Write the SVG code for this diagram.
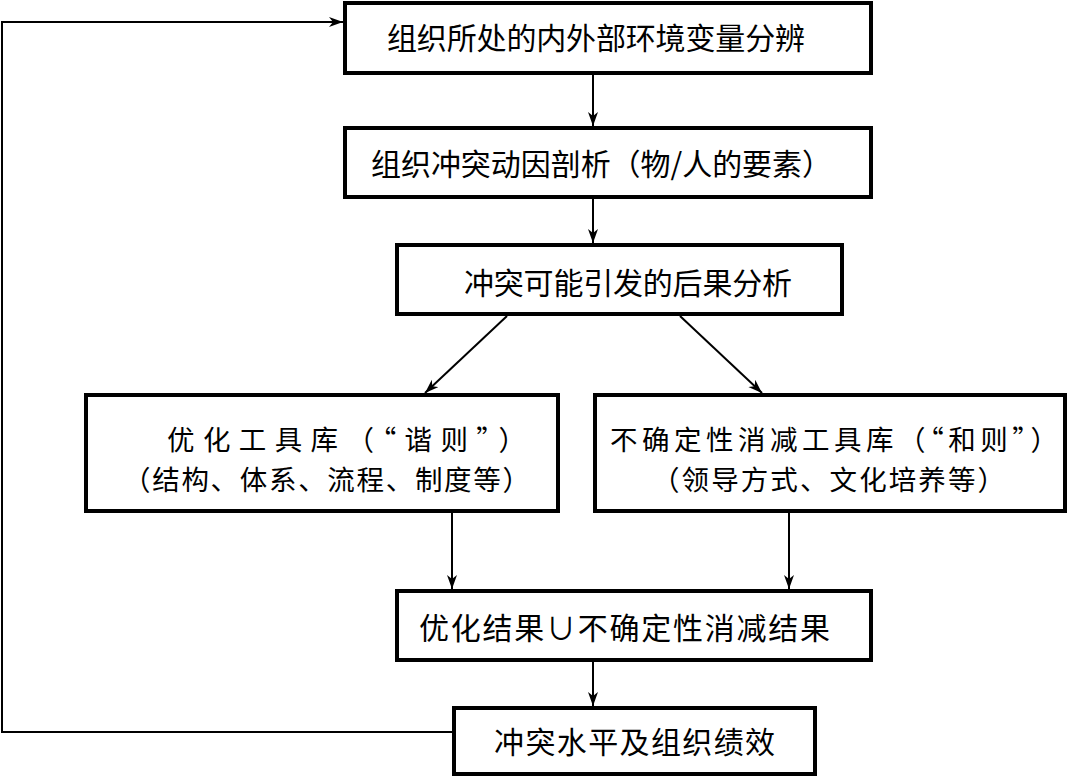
<svg xmlns="http://www.w3.org/2000/svg" width="1069" height="777" viewBox="0 0 1069 777">
<defs>
<marker id="arr" markerUnits="userSpaceOnUse" markerWidth="16" markerHeight="12" refX="14" refY="5" orient="auto">
<path d="M0,0 L14,5 L0,10 L4,5 z" fill="#000"/>
</marker>
<style>
.box{fill:#fff;stroke:#000;stroke-width:4}
.t{font-family:"Noto Sans CJK SC","Noto Sans CJK JP",sans-serif;font-size:30px;fill:#000}
.s{font-size:27.5px}
.c{fill:none;stroke:#000;stroke-width:2}
</style>
</defs>
<rect width="1069" height="777" fill="#fff"/>
<g id="connectors">
<line class="c" x1="593" y1="75" x2="593" y2="126" marker-end="url(#arr)"/>
<line class="c" x1="593" y1="199" x2="593" y2="243" marker-end="url(#arr)"/>
<line class="c" x1="507" y1="316" x2="425" y2="393" marker-end="url(#arr)"/>
<line class="c" x1="680" y1="316" x2="762" y2="393" marker-end="url(#arr)"/>
<line class="c" x1="452" y1="513" x2="452" y2="589" marker-end="url(#arr)"/>
<line class="c" x1="789" y1="513" x2="789" y2="589" marker-end="url(#arr)"/>
<line class="c" x1="593" y1="662" x2="593" y2="706" marker-end="url(#arr)"/>
<polyline class="c" points="452,732 2,732 2,22 343,22" marker-end="url(#arr)"/>
</g>
<g id="n1">
<rect class="box" x="345" y="3" width="526" height="70"/>
<text class="t" x="387" y="49" textLength="418">组织所处的内外部环境变量分辨</text>
</g>
<g id="n2">
<rect class="box" x="345" y="128" width="526" height="69"/>
<text class="t" x="371" y="175" textLength="461">组织冲突动因剖析（物/人的要素）</text>
</g>
<g id="n3">
<rect class="box" x="397" y="245" width="445" height="69"/>
<text class="t" x="464" y="294" textLength="328">冲突可能引发的后果分析</text>
</g>
<g id="n4">
<rect class="box" x="86" y="395" width="472" height="116"/>
<text class="t s" x="167" y="450" textLength="359">优化工具库（“谐则”）</text>
<text class="t s" x="123" y="490" textLength="407">（结构、体系、流程、制度等）</text>
</g>
<g id="n5">
<rect class="box" x="595" y="395" width="470" height="116"/>
<text class="t s" x="610" y="450" textLength="448">不确定性消减工具库（“和则”）</text>
<text class="t s" x="652" y="490" textLength="353">（领导方式、文化培养等）</text>
</g>
<g id="n6">
<rect class="box" x="397" y="591" width="474" height="69"/>
<text class="t" x="419" y="639" textLength="411">优化结果∪不确定性消减结果</text>
</g>
<g id="n7">
<rect class="box" x="454" y="708" width="361" height="66"/>
<text class="t" x="494" y="753" textLength="281">冲突水平及组织绩效</text>
</g>
</svg>
